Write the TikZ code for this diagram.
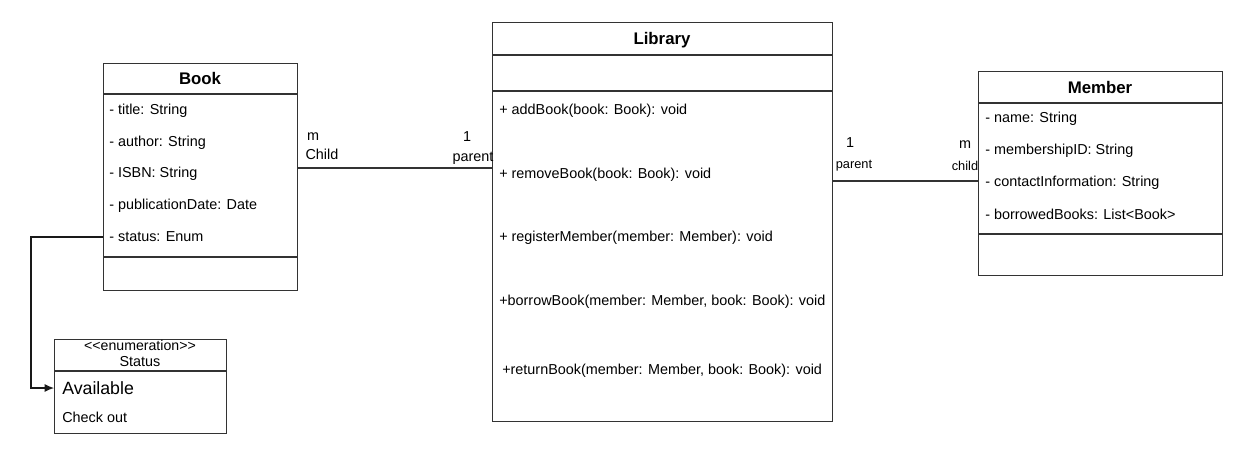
\documentclass[tikz,border=0pt]{standalone}
\usepackage{fontspec}
\setmainfont{Liberation Sans}
\usetikzlibrary{positioning,arrows.meta}

\begin{document}
\begin{tikzpicture}[
    x=0.75pt, y=-0.75pt,
    box/.style={rectangle,draw=black!80,line width=0.8pt,inner sep=0pt,anchor=north west},
    attr/.style={anchor=west,inner sep=0pt},
    title/.style={inner sep=0pt,font=\fontsize{12.6}{14}\selectfont\bfseries},
    small/.style={inner sep=0pt,font=\fontsize{9.6}{11}\selectfont},
    font=\fontsize{10.8}{13}\selectfont
    ]
    \useasboundingbox (0,0) rectangle (1243,460);

    % book class:
    \node (book) at (103,63) [box,minimum width=194*0.75pt,minimum height=227*0.75pt] {};
    \node (booktitle) at (200,78) [title] {Book};
    \draw [black!80,line width=0.8pt] (book.west |- 0,94) -- (book.east |- 0,94);
    \draw [black!80,line width=0.8pt] (book.west |- 0,257) -- (book.east |- 0,257);
    \foreach \t [count=\i from 0] in {- title: String, - author: String,
        - ISBN: String, - publicationDate: Date, - status: Enum}
      \node (b\i) at (109, 111 + \i * 31.5) [attr] {\t};

    % library class:
    \node (library) at (492,22) [box,minimum width=340*0.75pt,minimum height=399*0.75pt] {};
    \node (libtitle) at (662,40) [title] {Library};
    \draw [black!80,line width=0.8pt] (library.west |- 0,55) -- (library.east |- 0,55);
    \draw [black!80,line width=0.8pt] (library.west |- 0,91) -- (library.east |- 0,91);
    \node (l0) at (499,111) [attr] {+ addBook(book: Book): void};
    \node (l1) at (499,175) [attr] {+ removeBook(book: Book): void};
    \node (l2) at (499,238) [attr] {+ registerMember(member: Member): void};
    \node (l3) at (499,302) [attr] {+borrowBook(member: Member, book: Book): void};
    \node (l4) at (502,371) [attr] {+returnBook(member: Member, book: Book): void};

    % member class:
    \node (member) at (978,71) [box,minimum width=244*0.75pt,minimum height=204*0.75pt] {};
    \node (memtitle) at (1100,87) [title] {Member};
    \draw [black!80,line width=0.8pt] (member.west |- 0,103) -- (member.east |- 0,103);
    \draw [black!80,line width=0.8pt] (member.west |- 0,234) -- (member.east |- 0,234);
    \foreach \t [count=\i from 0] in {- name: String, - membershipID: String,
        - contactInformation: String, - borrowedBooks: List<Book>}
      \node (m\i) at (985, 119 + \i * 31.7) [attr] {\t};

    % status enumeration:
    \node (status) at (54,339) [box,minimum width=172*0.75pt,minimum height=94*0.75pt] {};
    \node (enum) at (140,345) [inner sep=0pt,font=\fontsize{10.6}{12}\selectfont] {{<}{<}enumeration{>}{>}};
    \node (stitle) at (140,362) [inner sep=0pt] {Status};
    \draw [black!80,line width=0.8pt] (status.west |- 0,371) -- (status.east |- 0,371);
    \node (avail) at (62,388) [attr,font=\fontsize{13.3}{15}\selectfont] {Available};
    \node (check) at (62,417) [attr] {Check out};

    % multiplicities:
    \node (bm) at (313,137) [inner sep=0pt] {m};
    \node (bc) at (322,154) [inner sep=0pt] {Child};
    \node (lo) at (467,137) [inner sep=0pt] {1};
    \node (lp) at (473,158) [inner sep=0pt] {parent};
    \node (ro) at (850,143) [inner sep=0pt] {1};
    \node (rp) at (854,166) [small] {parent};
    \node (mm) at (965,145) [inner sep=0pt] {m};
    \node (mc) at (965,166) [small] {child};

    % associations:
    \draw [black!80,line width=0.8pt] (book.east |- 0,168) -- (library.west |- 0,168);
    \draw [black!80,line width=0.8pt] (library.east |- 0,181) -- (member.west |- 0,181);
    \draw [black!90,line width=0.8pt,-{Latex[length=7pt,width=6pt]}]
      (book.west |- b4) -- ++(-72,0) |- (status.west |- avail);

\end{tikzpicture}
\end{document}
